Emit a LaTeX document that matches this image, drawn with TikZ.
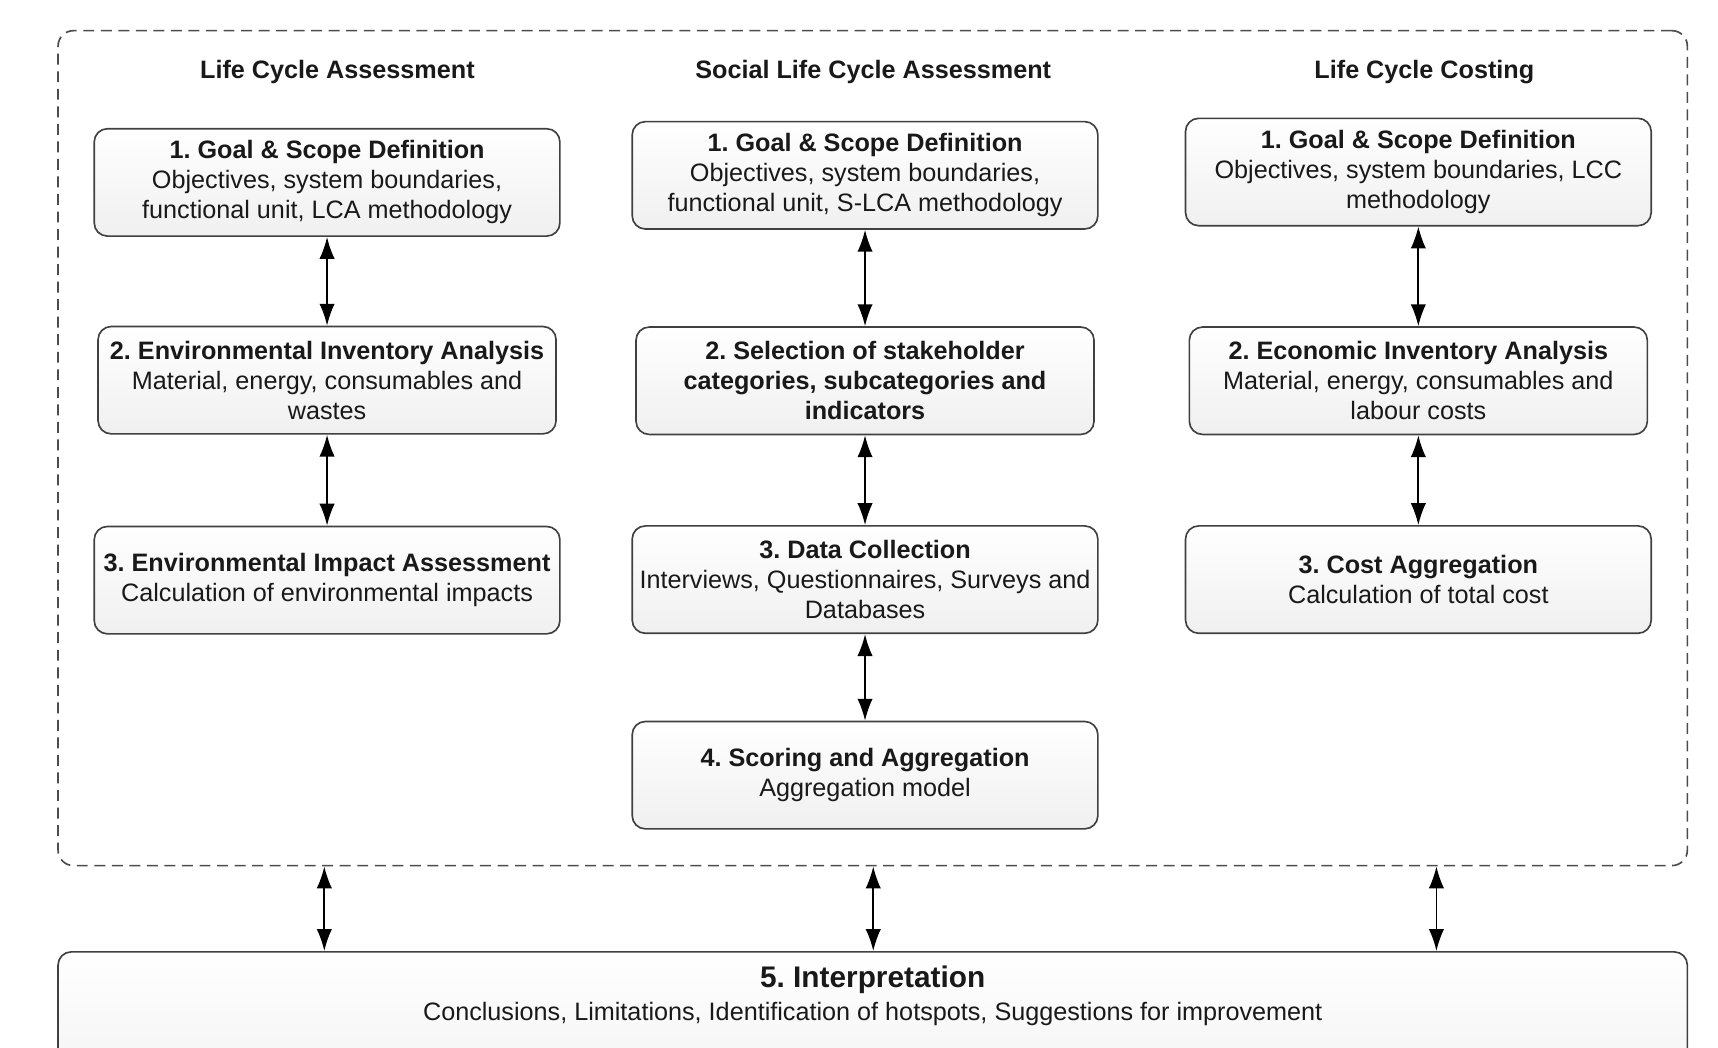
\documentclass[tikz,border=0pt]{standalone}
\usepackage{fontspec}
\setmainfont{Liberation Sans}
\usetikzlibrary{arrows.meta,positioning}
\frenchspacing

\begin{document}
\begin{tikzpicture}[
    x=0.5pt, y=-0.5pt,
    font=\fontsize{11.5}{13.7}\selectfont,
    header/.style={font=\fontsize{11.5}{13.7}\selectfont\bfseries, text=black!90},
    stage/.style={rectangle, draw=black!75, line width=0.75pt, rounded corners=6pt, top color=white, bottom color=black!6, minimum width=212.5pt, minimum height=49pt, align=center, inner sep=1pt, text=black!90},
    slim/.style={stage, minimum width=209pt},
    frame/.style={rectangle, draw=black!70, line width=0.75pt, dash pattern=on 5pt off 3pt, rounded corners=7pt, minimum width=743.5pt, minimum height=381pt},
    arrow/.style={{Latex[length=10pt,width=7pt]}-{Latex[length=10pt,width=7pt]}, line width=0.8pt}
]
\useasboundingbox (0,0) rectangle (1568,956.5);

% Frame round the three methods
\node[frame] (frame) at (796.5,409) {};

% Life Cycle Assessment
\node[header] (lcahead) at (308,66) {Life Cycle Assessment};
\node[stage] (lca1) at (298.5,166.5) {
    \textbf{1. Goal \& Scope Definition}\\
    Objectives, system boundaries,\\
    functional unit, LCA methodology
};
\node[slim, below=40.5pt of lca1] (lca2) {
    \textbf{2. Environmental Inventory Analysis}\\
    Material, energy, consumables and\\
    wastes
};
\node[stage, below=41.5pt of lca2] (lca3) {
    \textbf{3. Environmental Impact Assessment}\\
    Calculation of environmental impacts
};

% Social Life Cycle Assessment
\node[header] (slcahead) at (797,66) {Social Life Cycle Assessment};
\node[stage] (slca1) at (789.5,160) {
    \textbf{1. Goal \& Scope Definition}\\
    Objectives, system boundaries,\\
    functional unit, S-LCA methodology
};
\node[slim, below=44pt of slca1, font=\fontsize{11.5}{13.7}\selectfont\bfseries] (slca2) {
    2. Selection of stakeholder\\
    categories, subcategories and\\
    indicators
};
\node[stage, below=41pt of slca2] (slca3) {
    \textbf{3. Data Collection}\\
    Interviews, Questionnaires, Surveys and\\
    Databases
};
\node[stage, below=39.5pt of slca3] (slca4) {
    \textbf{4. Scoring and Aggregation}\\
    Aggregation model
};

% Life Cycle Costing
\node[header] (lcchead) at (1300,66) {Life Cycle Costing};
\node[stage] (lcc1) at (1294.5,157) {
    \textbf{1. Goal \& Scope Definition}\\
    Objectives, system boundaries, LCC\\
    methodology
};
\node[slim, below=45.5pt of lcc1] (lcc2) {
    \textbf{2. Economic Inventory Analysis}\\
    Material, energy, consumables and\\
    labour costs
};
\node[stage, below=41pt of lcc2] (lcc3) {
    \textbf{3. Cost Aggregation}\\
    Calculation of total cost
};

% Interpretation
\node[stage, anchor=north, minimum width=743.5pt, inner ysep=6.3pt, text depth=40pt,
      font=\fontsize{11.5}{15}\selectfont] (interp) at (796.5,868) {
    {\fontsize{13.6}{15}\selectfont\bfseries 5. Interpretation}\\
    Conclusions, Limitations, Identification of hotspots, Suggestions for improvement
};

% Arrows
\draw[arrow] (lca1.south) -- (lca2.north);
\draw[arrow] (lca2.south) -- (lca3.north);
\draw[arrow] (slca1.south) -- (slca2.north);
\draw[arrow] (slca2.south) -- (slca3.north);
\draw[arrow] (slca3.south) -- (slca4.north);
\draw[arrow] (lcc1.south) -- (lcc2.north);
\draw[arrow] (lcc2.south) -- (lcc3.north);

\coordinate (lcax) at (296,0);
\coordinate (slcax) at (797,0);
\coordinate (lccx) at (1311,0);
\draw[arrow] (frame.south -| lcax) -- (interp.north -| lcax);
\draw[arrow] (frame.south -| slcax) -- (interp.north -| slcax);
\draw[arrow] (frame.south -| lccx) -- (interp.north -| lccx);

\end{tikzpicture}
\end{document}
